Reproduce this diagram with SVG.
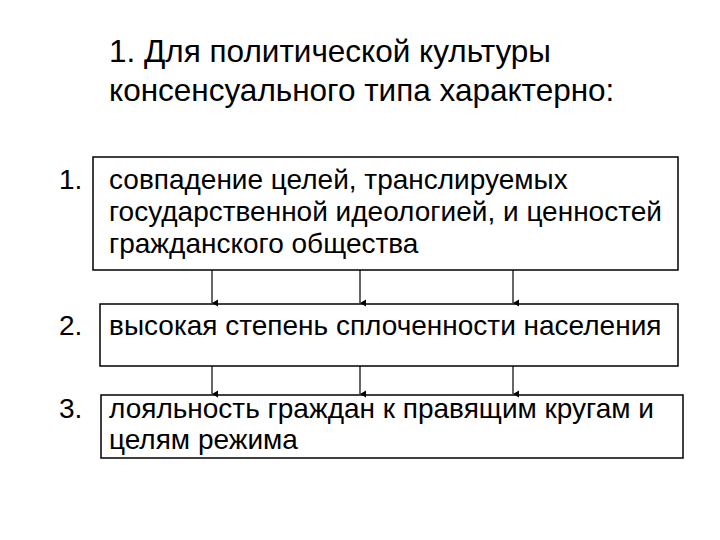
<svg xmlns="http://www.w3.org/2000/svg" width="720" height="540" viewBox="0 0 720 540">
<defs>
<style>
.t{font-family:"Liberation Sans",Arial,sans-serif;fill:#000}
.title{font-size:31.5px}
.b{font-size:28px}
.box{fill:#fff;stroke:#000;stroke-width:1.5}
.c{stroke:#000;stroke-width:1.2;fill:none}
</style>
<marker id="ah" markerWidth="8" markerHeight="8" refX="4" refY="7" orient="auto" markerUnits="userSpaceOnUse" viewBox="0 0 8 8">
<path d="M0.5,1 L7.5,1 L4,7 Z" fill="#000"/>
</marker>
</defs>
<rect width="720" height="540" fill="#fff"/>
<g id="title">
<text class="t title" x="109" y="62">1. Для политической культуры</text>
<text class="t title" x="109" y="101">консенсуального типа характерно:</text>
</g>
<g id="node1">
<text class="t b" x="59" y="189">1.</text>
<rect class="box" x="93" y="157" width="585" height="113"/>
<text class="t b" x="109" y="189">совпадение целей, транслируемых</text>
<text class="t b" x="109" y="221">государственной идеологией, и ценностей</text>
<text class="t b" x="109" y="253">гражданского общества</text>
</g>
<g id="node2">
<text class="t b" x="59" y="335">2.</text>
<rect class="box" x="100" y="304" width="578" height="62"/>
<text class="t b" x="109" y="335">высокая степень сплоченности населения</text>
</g>
<g id="node3">
<text class="t b" x="59" y="418">3.</text>
<rect class="box" x="101" y="395" width="582" height="63"/>
<text class="t b" x="109" y="418">лояльность граждан к правящим кругам и</text>
<text class="t b" x="109" y="449">целям режима</text>
</g>
<g id="connectors">
<line class="c" x1="212" y1="270" x2="212" y2="303" marker-end="url(#ah)"/>
<line class="c" x1="360" y1="270" x2="360" y2="303" marker-end="url(#ah)"/>
<line class="c" x1="513" y1="270" x2="513" y2="303" marker-end="url(#ah)"/>
<line class="c" x1="212" y1="366" x2="212" y2="394" marker-end="url(#ah)"/>
<line class="c" x1="360" y1="366" x2="360" y2="394" marker-end="url(#ah)"/>
<line class="c" x1="513" y1="366" x2="513" y2="394" marker-end="url(#ah)"/>
</g>
</svg>
